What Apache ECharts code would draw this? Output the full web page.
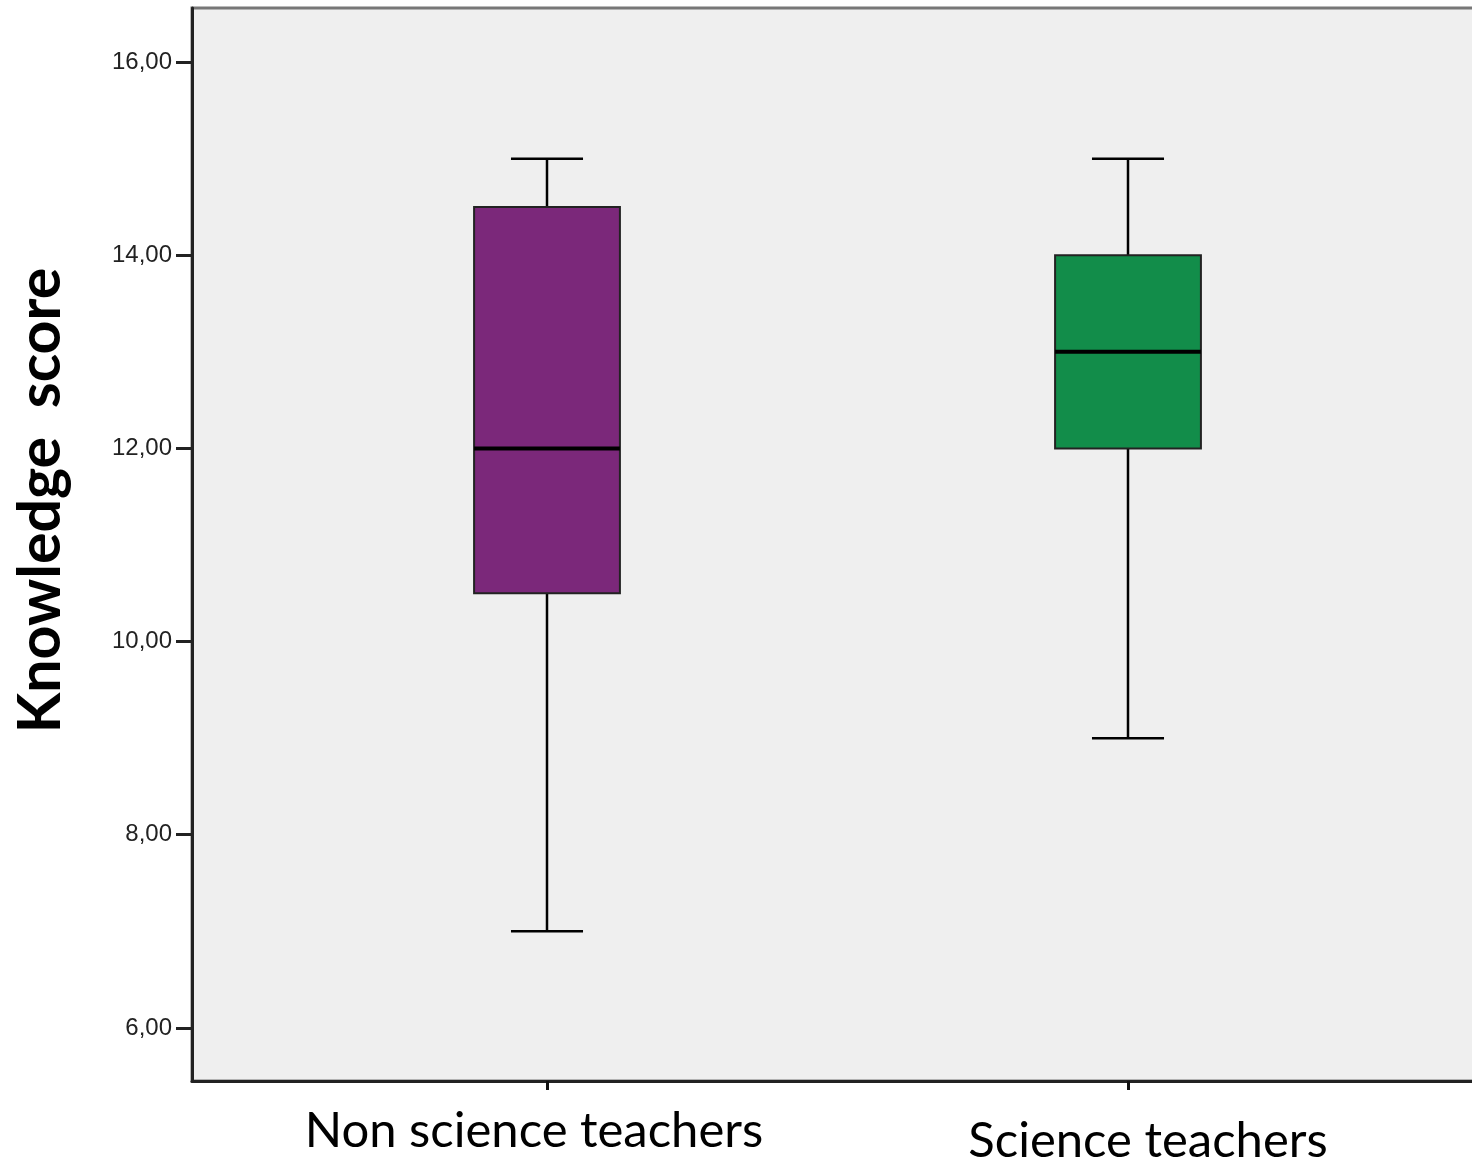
<!DOCTYPE html>
<html>
<head>
<meta charset="utf-8">
<script src="https://cdn.jsdelivr.net/npm/echarts@6/dist/echarts.min.js"></script>
<style>
  html, body { margin: 0; padding: 0; background: #fff; }
  #chart { width: 1472px; height: 1158px; }
</style>
</head>
<body>
<div id="chart"></div>
<script>
// groups and five-number summaries
const categories = ["Non science teachers", "Science teachers"];
const whiskerLow = [7, 9];
const q1 = [10.5, 12];
const median = [12, 13];
const q3 = [14.5, 14];
const whiskerHigh = [15, 15];
const boxColors = ["#7b287a", "#128d4a"];
const yTicks = [6, 8, 10, 12, 14, 16];

const yMin = 5.45, yMax = 16.56;

const boxData = categories.map((c, i) => [i, whiskerLow[i], q1[i], median[i], q3[i], whiskerHigh[i]]);

const renderBox = (params, api) => {
  const i = api.value(0);
  const band = api.size([1, 0])[0];
  const boxW = band * 0.251;
  const capW = band * 0.124;
  const lo = api.coord([i, api.value(1)]);
  const b1 = api.coord([i, api.value(2)]);
  const md = api.coord([i, api.value(3)]);
  const b3 = api.coord([i, api.value(4)]);
  const hi = api.coord([i, api.value(5)]);
  const x = lo[0];
  const line = { stroke: "#000", lineWidth: 2.5 };
  return {
    type: "group",
    children: [
      { type: "line", shape: { x1: x, y1: hi[1], x2: x, y2: b3[1] }, style: line },
      { type: "line", shape: { x1: x, y1: b1[1], x2: x, y2: lo[1] }, style: line },
      { type: "line", shape: { x1: x - capW / 2, y1: hi[1], x2: x + capW / 2, y2: hi[1] }, style: line },
      { type: "line", shape: { x1: x - capW / 2, y1: lo[1], x2: x + capW / 2, y2: lo[1] }, style: line },
      { type: "rect", shape: { x: x - boxW / 2, y: b3[1], width: boxW, height: b1[1] - b3[1] },
        style: { fill: boxColors[params.dataIndex], stroke: "#222", lineWidth: 2 } },
      { type: "line", shape: { x1: x - boxW / 2, y1: md[1], x2: x + boxW / 2, y2: md[1] },
        style: { stroke: "#000", lineWidth: 4 } }
    ]
  };
};

const chart = echarts.init(document.getElementById("chart"));

option = {
  animation: false,
  backgroundColor: "#fff",
  grid: [
    // frame
    { left: 192, right: -6, top: 8, bottom: 77, show: true, backgroundColor: "#efefef",
      borderColor: "#777", borderWidth: 3, outerBoundsMode: "none", containLabel: false },
    // box positions
    { left: 256.5, right: 53.5, top: 8, bottom: 77, outerBoundsMode: "none", containLabel: false }
  ],
  xAxis: [
    { gridIndex: 0, type: "category", data: ["", ""],
      axisLine: { lineStyle: { color: "#222", width: 3 } },
      axisTick: { show: false }, axisLabel: { show: false } },
    { gridIndex: 1, type: "category", data: categories,
      axisLine: { show: false },
      axisTick: { show: true, alignWithLabel: true, length: 9, lineStyle: { color: "#111", width: 3 } },
      axisLabel: {
        margin: 26,
        formatter: (v, i) => (i === 0 ? "{a|" : "{b|") + v + "}",
        rich: {
          a: { fontFamily: "Lato", fontSize: 49, color: "#000", padding: [0, 26, 0, 0] },
          b: { fontFamily: "Lato", fontSize: 49, color: "#000", padding: [10, 0, 0, 40] }
        }
      } }
  ],
  yAxis: [
    { gridIndex: 0, type: "value", min: yMin, max: yMax,
      name: "Knowledge  score", nameLocation: "middle", nameGap: 122,
      nameTextStyle: { fontFamily: "Lato", fontWeight: "bold", fontSize: 59, color: "#000",
        padding: [0, 0, 0, 88] },
      axisLine: { show: true, lineStyle: { color: "#222", width: 3 } },
      axisTick: { show: true, customValues: yTicks, length: 16, lineStyle: { color: "#222", width: 3 } },
      axisLabel: { customValues: yTicks, fontFamily: "Liberation Sans", fontSize: 24, color: "#222", margin: 20,
        formatter: v => v.toFixed(2).replace(".", ",") },
      splitLine: { show: false } },
    { gridIndex: 1, type: "value", min: yMin, max: yMax, show: false, splitLine: { show: false } }
  ],
  series: [
    { type: "custom", xAxisIndex: 1, yAxisIndex: 1, renderItem: renderBox,
      encode: { x: 0, y: [1, 2, 3, 4, 5] }, data: boxData }
  ]
};

chart.setOption(option);

window.addEventListener("resize", function () {
  chart.resize();
});
</script>
</body>
</html>
